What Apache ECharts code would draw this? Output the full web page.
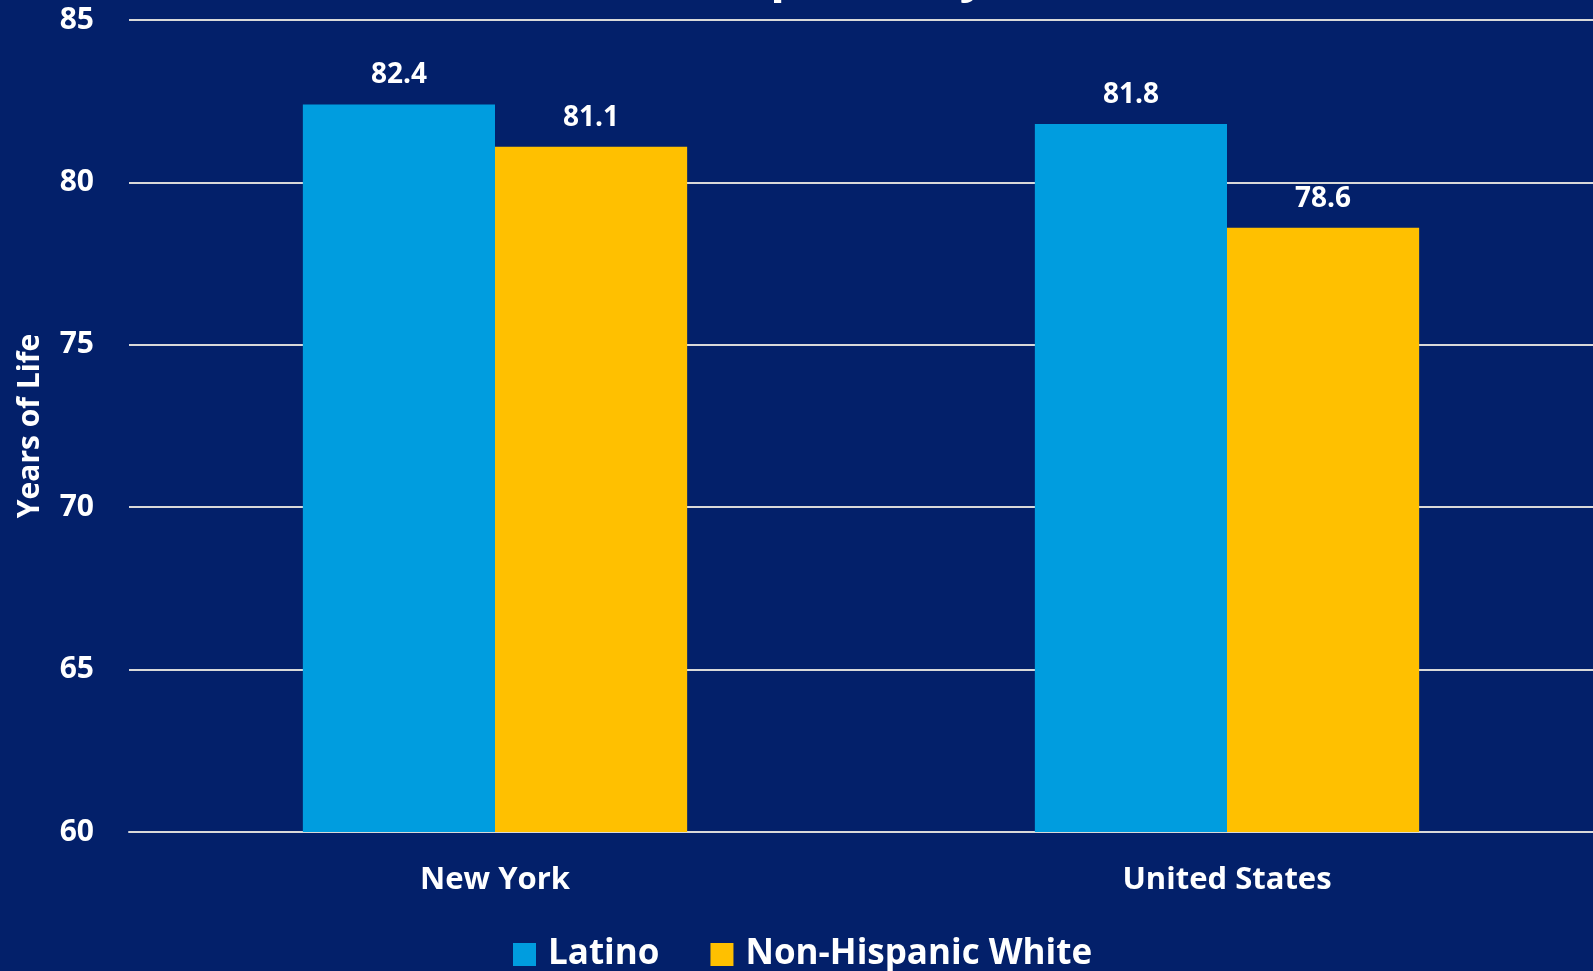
<!DOCTYPE html>
<html>
<head>
<meta charset="utf-8">
<script src="https://cdn.jsdelivr.net/npm/echarts@6/dist/echarts.min.js"></script>
<style>
  html, body { margin: 0; padding: 0; background: #03206a; }
  #chart { width: 1593px; height: 971px; }
</style>
</head>
<body>
<div id="chart"></div>
<script>
const places = ['New York', 'United States'];
const latino = [82.4, 81.8];
const white = [81.1, 78.6];
const seriesNames = ['Latino', 'Non-Hispanic White'];

var myChart = echarts.init(document.getElementById('chart'));
var font = '"Open Sans", Lato, sans-serif';
var option = {
    backgroundColor: '#03206a',
    textStyle: { fontFamily: font },
    graphic: [{
        type: 'text',
        right: 606,
        top: -47,
        style: { text: 'Life Expectancy', fill: '#fff', font: 'bold 48px ' + font }
    }],
    legend: {
        data: seriesNames,
        bottom: -6,
        left: 508,
        itemWidth: 23,
        itemHeight: 23,
        itemGap: 51,
        icon: 'rect',
        textStyle: { color: '#fff', fontSize: 35, fontWeight: 'bold', fontFamily: font, padding: [0, 0, 0, 7] }
    },
    grid: {
        left: 129,
        right: 0,
        top: 20,
        bottom: 139,
        outerBoundsMode: 'none'
    },
    xAxis: {
        type: 'category',
        data: places,
        axisLine: { show: true, lineStyle: { color: '#d9d9d9', width: 2 } },
        axisTick: { show: false },
        axisLabel: { color: '#fff', fontSize: 31, fontWeight: 'bold', margin: 33, fontFamily: font }
    },
    yAxis: {
        type: 'value',
        min: 60,
        max: 85,
        interval: 5,
        name: 'Years of Life',
        nameLocation: 'middle',
        nameGap: 84,
        nameTextStyle: { color: '#fff', fontSize: 30, fontWeight: 'bold', fontFamily: font },
        axisLine: { show: false },
        axisTick: { show: false },
        axisLabel: { color: '#fff', fontSize: 30, fontWeight: 'bold', margin: 35, fontFamily: font },
        splitLine: { lineStyle: { color: '#d9d9d9', width: 2 } }
    },
    series: [
        {
            name: seriesNames[0],
            type: 'bar',
            data: latino,
            barGap: '0%',
            barCategoryGap: '47.5%',
            itemStyle: { color: '#009ddf' },
            label: { show: true, position: 'top', distance: 15, color: '#fff', fontSize: 28, fontWeight: 'bold', fontFamily: font }
        },
        {
            name: seriesNames[1],
            type: 'bar',
            data: white,
            barGap: '0%',
            barCategoryGap: '47.5%',
            itemStyle: { color: '#ffc000' },
            label: { show: true, position: 'top', distance: 15, color: '#fff', fontSize: 28, fontWeight: 'bold', fontFamily: font }
        }
    ]
};
myChart.setOption(option);
window.addEventListener('resize', function() {
    myChart.resize();
});
</script>
</body>
</html>
